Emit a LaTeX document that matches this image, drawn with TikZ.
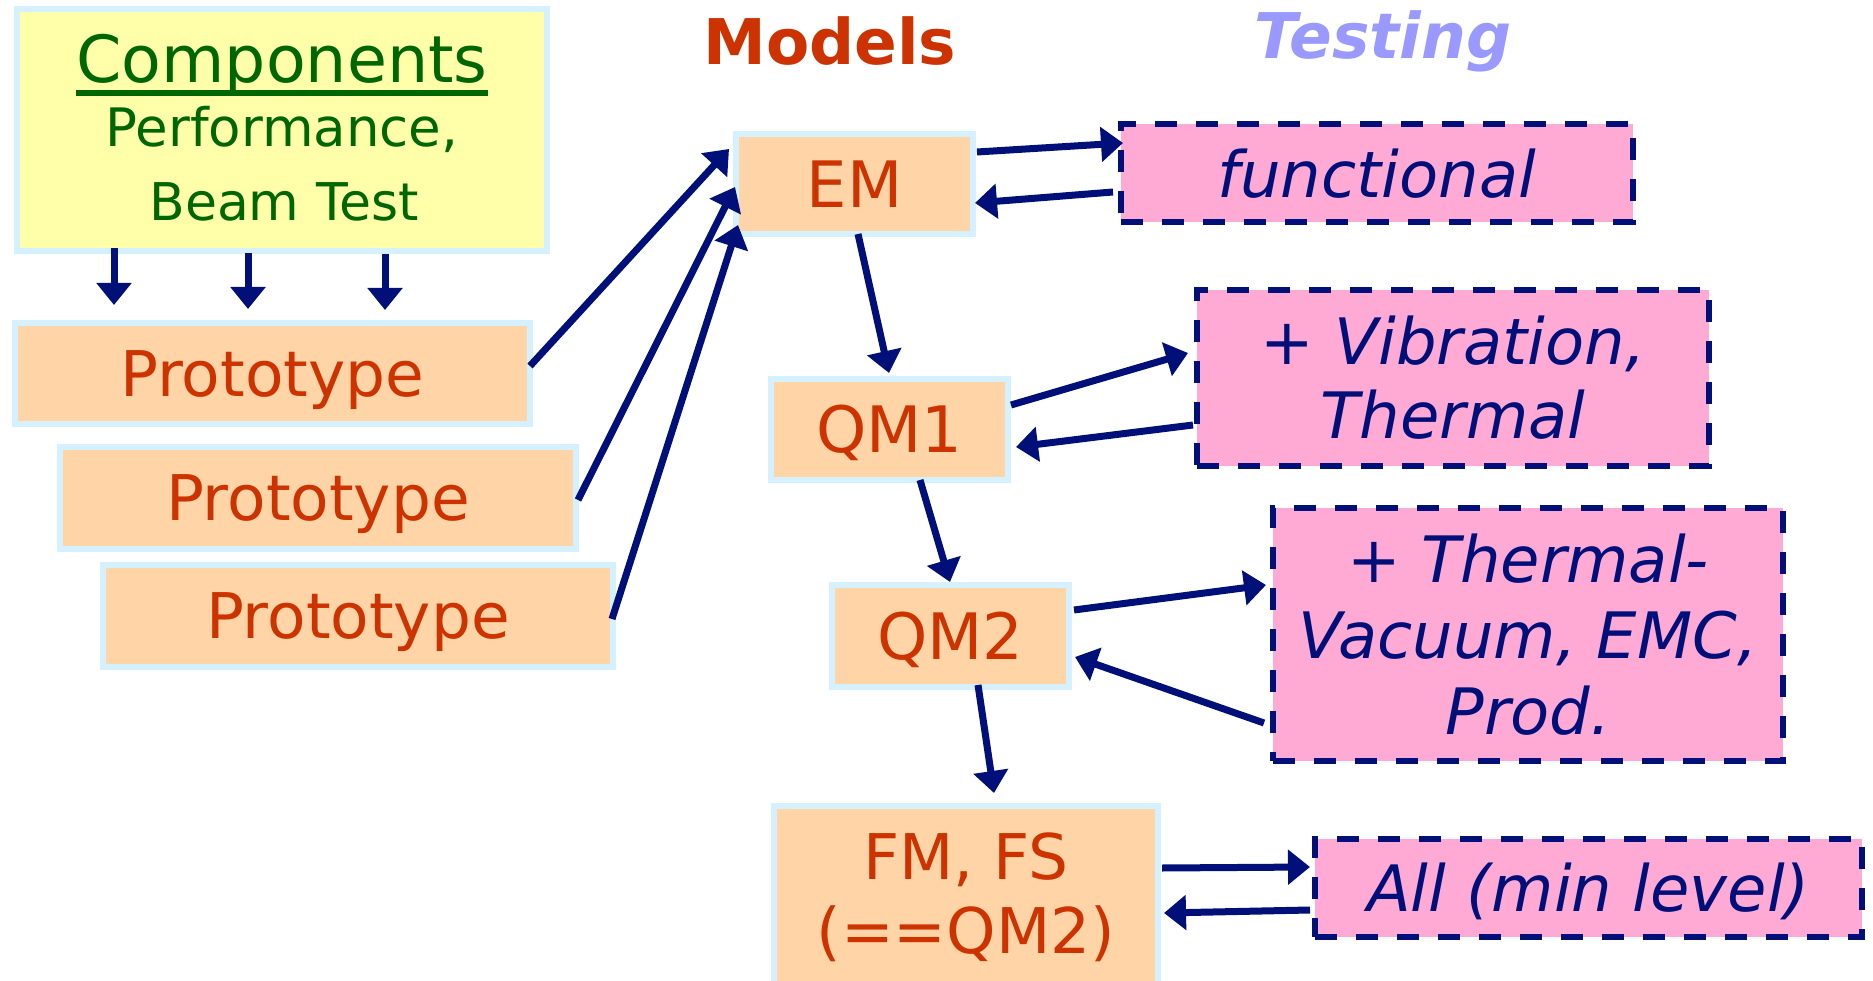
\documentclass[tikz,border=0pt]{standalone}
\usepackage{fontspec}
\setmainfont{DejaVu Sans}
\usetikzlibrary{arrows.meta,calc}
\definecolor{navy}{RGB}{0,16,120}
\definecolor{lblue}{RGB}{213,240,255}
\definecolor{peach}{RGB}{255,213,168}
\definecolor{yel}{RGB}{255,255,170}
\definecolor{pinkf}{RGB}{255,170,213}
\definecolor{orng}{RGB}{204,51,0}
\definecolor{grn}{RGB}{0,102,0}
\definecolor{lav}{RGB}{153,153,255}
\newcommand\myul[1]{\setbox0\hbox{#1}\rlap{\rule[-13pt]{\wd0}{6pt}}\box0}
\begin{document}
\begin{tikzpicture}[x=1pt,y=-1pt,
  model/.style={draw=lblue, line width=6pt, fill=peach, text=orng, inner sep=0pt, outer sep=0pt},
  test/.style={draw=navy, line width=6pt, dash pattern=on 22pt off 19pt, fill=pinkf, text=navy,
               inner sep=0pt, outer sep=0pt, align=center},
  arr/.style={draw=navy, line width=7pt, -{Triangle[width=34pt,length=22pt]}},
  bigf/.style={font=\fontsize{64}{74}\selectfont},
]
\useasboundingbox (0,0) rectangle (1873,981);
\clip (0,0) rectangle (1873,981);

% components box
\node[draw=lblue, line width=6pt, fill=yel, minimum width=530pt, minimum height=242pt,
      inner sep=0pt, outer sep=0pt] (comp) at (282,130) {};
\node[anchor=base, text=grn, inner sep=0pt, font=\fontsize{65}{65}\selectfont] (comptitle) at (282,83) {\myul{Components}};
\node[anchor=base, text=grn, inner sep=0pt, font=\fontsize{53}{53}\selectfont] (compl2) at (282,147) {Performance,};
\node[anchor=base, text=grn, inner sep=0pt, font=\fontsize{52}{52}\selectfont] (compl3) at (284,221) {Beam Test};

% titles
\node[anchor=base, text=orng, inner sep=0pt, font=\bfseries\fontsize{63}{63}\selectfont] (models) at (830,65) {Models};
\node[anchor=base, text=lav, inner sep=0pt, font=\bfseries\itshape\fontsize{63}{63}\selectfont] (testing) at (1383,59) {Testing};

% prototypes
\node[model, minimum width=515pt, minimum height=101pt, text height=45.9pt, text depth=0pt,
      font=\fontsize{63}{74}\selectfont] (p1) at (272.5,373.5) {Prototype};
\node[model, minimum width=516pt, minimum height=102pt, text height=45.9pt, text depth=0pt,
      font=\fontsize{63}{74}\selectfont] (p2) at (318,498) {Prototype};
\node[model, minimum width=510pt, minimum height=102pt, text height=45.9pt, text depth=0pt,
      font=\fontsize{63}{74}\selectfont] (p3) at (358,616) {Prototype};

% models
\node[model, bigf, minimum width=237pt, minimum height=100pt, text height=46.7pt, text depth=0pt] (em) at (854.5,184) {EM};
\node[model, bigf, minimum width=237pt, minimum height=101pt, text height=46.7pt, text depth=0pt] (qm1) at (889.5,429.5) {QM1};
\node[model, bigf, minimum width=237pt, minimum height=102pt, text height=46.7pt, text depth=0pt] (qm2) at (950.5,636) {QM2};
\node[model, align=center, font=\fontsize{63}{74}\selectfont, minimum width=384pt, minimum height=183pt] (fm) at (966,897.5) {FM, FS\\(==QM2)};

% tests
\node[test, bigf, minimum width=512pt, minimum height=98pt, text height=48.6pt, text depth=0pt] (func) at (1377,173) {\itshape functional};
\node[test, bigf, minimum width=512pt, minimum height=176pt] (vib) at (1453,378) {+ \textit{Vibration,}\\\textit{Thermal}};
\node[test, font=\fontsize{64}{76}\selectfont, minimum width=510pt, minimum height=253pt] (tv) at (1528,634.5) {+ \textit{Thermal-}\\\textit{Vacuum, EMC,}\\\textit{Prod.}};
\node[test, bigf, minimum width=547pt, minimum height=98pt, text height=47pt, text depth=0pt] (all) at (1588.5,888) {\itshape All (min level)};

% arrows components -> prototypes
\draw[arr] ($(comp.south)+(-168,-3)$) -- ($(p1.north)+(-158.5,-18)$);
\draw[arr] ($(comp.south)+(-34,2)$) -- ($(p1.north)+(-24.5,-14)$);
\draw[arr] ($(comp.south)+(103,3)$) -- ($(p1.north)+(112.5,-13)$);

% prototypes -> EM
\draw[arr] ($(p1.east)+(0,-7.5)$) -- ($(em.west)+(-7,-35)$);
\draw[arr] ($(p2.east)+(2,2)$) -- ($(em.west)+(-1,3)$);
\draw[arr] ($(p3.east)+(-1,3)$) -- ($(em.west)+(2,41)$);

% models chain and tests
\draw[arr] ($(em.east)+(4,-32)$) -- ($(func.west)+(2,-30)$);
\draw[arr] ($(func.west)+(-8,19)$) -- ($(em.east)+(2,19)$);
\draw[arr] ($(em.south)+(3.5,0)$) -- ($(qm1.north)+(-0.5,-6)$);
\draw[arr] ($(qm1.east)+(3,-24.5)$) -- ($(vib.west)+(-9,-25)$);
\draw[arr] ($(vib.west)+(-4,47)$) -- ($(qm1.east)+(8,17.5)$);
\draw[arr] ($(qm1.south)+(30.5,0)$) -- ($(qm2.north)+(-0.5,-3)$);
\draw[arr] ($(qm2.east)+(5,-26)$) -- ($(tv.west)+(-7,-49.5)$);
\draw[arr] ($(tv.west)+(-9,88.5)$) -- ($(qm2.east)+(6,21)$);
\draw[arr] ($(qm2.south)+(27.5,-2)$) -- ($(fm.north)+(28,-13)$);
\draw[arr] ($(fm.east)+(4,-29.5)$) -- ($(all.west)+(-5,-21)$);
\draw[arr] ($(all.west)+(-5,22)$) -- ($(fm.east)+(6,15.5)$);
\end{tikzpicture}
\end{document}
